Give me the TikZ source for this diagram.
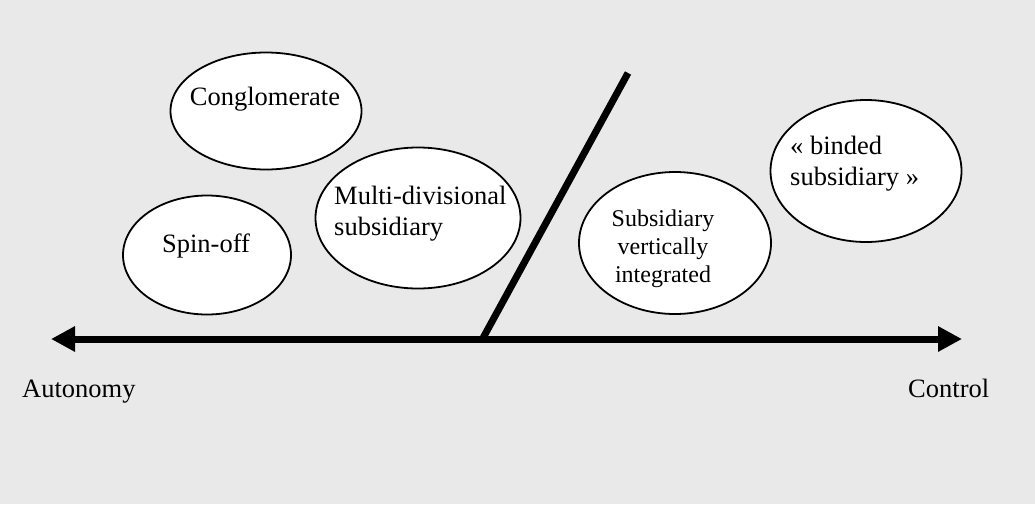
\documentclass[tikz,border=0pt]{standalone}
\usepackage{fontspec}
\setmainfont{Liberation Serif}
\usetikzlibrary{positioning}
\usetikzlibrary{arrows.meta}
\usetikzlibrary{shapes}
\definecolor{paneGray}{RGB}{233,233,233}
\tikzset{%
	% Specifications for style of nodes:
	bubble/.style = {ellipse, draw=black, line width=1.8pt, fill=white,
		inner sep=0pt},
	caption/.style = {inner sep=0pt, align=left,
		font=\fontsize{26.5}{31}\selectfont},
	smallcaption/.style = {caption, align=center,
		font=\fontsize{24}{28}\selectfont},
	axisline/.style = {line width=7pt,
		{Triangle[length=24pt,width=24pt]}-{Triangle[length=24pt,width=24pt]}},
}

\begin{document}
\begin{tikzpicture}[x=1pt, y=-1pt]
	\fill[paneGray] (0,0) rectangle (1035,504);
	\useasboundingbox (0,0) rectangle (1035,504);
	
	% the divide between the two families
	\coordinate (slashFoot) at (483,338);
	\coordinate (slashTop) at (628,73);
	\draw[line width=7pt] (slashFoot) -- (slashTop);
	
	\node (congl) [bubble, minimum width=191pt, minimum height=117pt] at (266,111) {};
	\node (spin) [bubble, minimum width=168pt, minimum height=119pt] at (207,255) {};
	\node (multi) [bubble, minimum width=205pt, minimum height=141pt] at (418,218) {};
	\node (vert) [bubble, minimum width=192pt, minimum height=142pt] at (675,243) {};
	\node (binded) [bubble, minimum width=191pt, minimum height=142pt] at (866,171) {};
	
	% texts (base = last line)
	\node (conglText) [caption, anchor=base] at (265,105) {Conglomerate};
	\node (spinText) [caption, anchor=base] at (206,252) {Spin-off};
	\node (multiText) [caption, anchor=base west] at (334,235) {Multi-divisional\\subsidiary};
	\node (vertText) [smallcaption, anchor=base] at (663,282) {Subsidiary\\vertically\\integrated};
	\node (bindedText) [caption, anchor=base west] at (790,185) {« binded\\subsidiary »};
	
	% the axis
	\coordinate (autoEnd) at (51,339);
	\coordinate (ctrlEnd) at (962,339);
	\draw[axisline] (autoEnd) -- (ctrlEnd);
	\node (autonomy) [caption, anchor=base west] at (22,397) {Autonomy};
	\node (control) [caption, anchor=base west] at (908,397) {Control};
\end{tikzpicture}
\end{document}
